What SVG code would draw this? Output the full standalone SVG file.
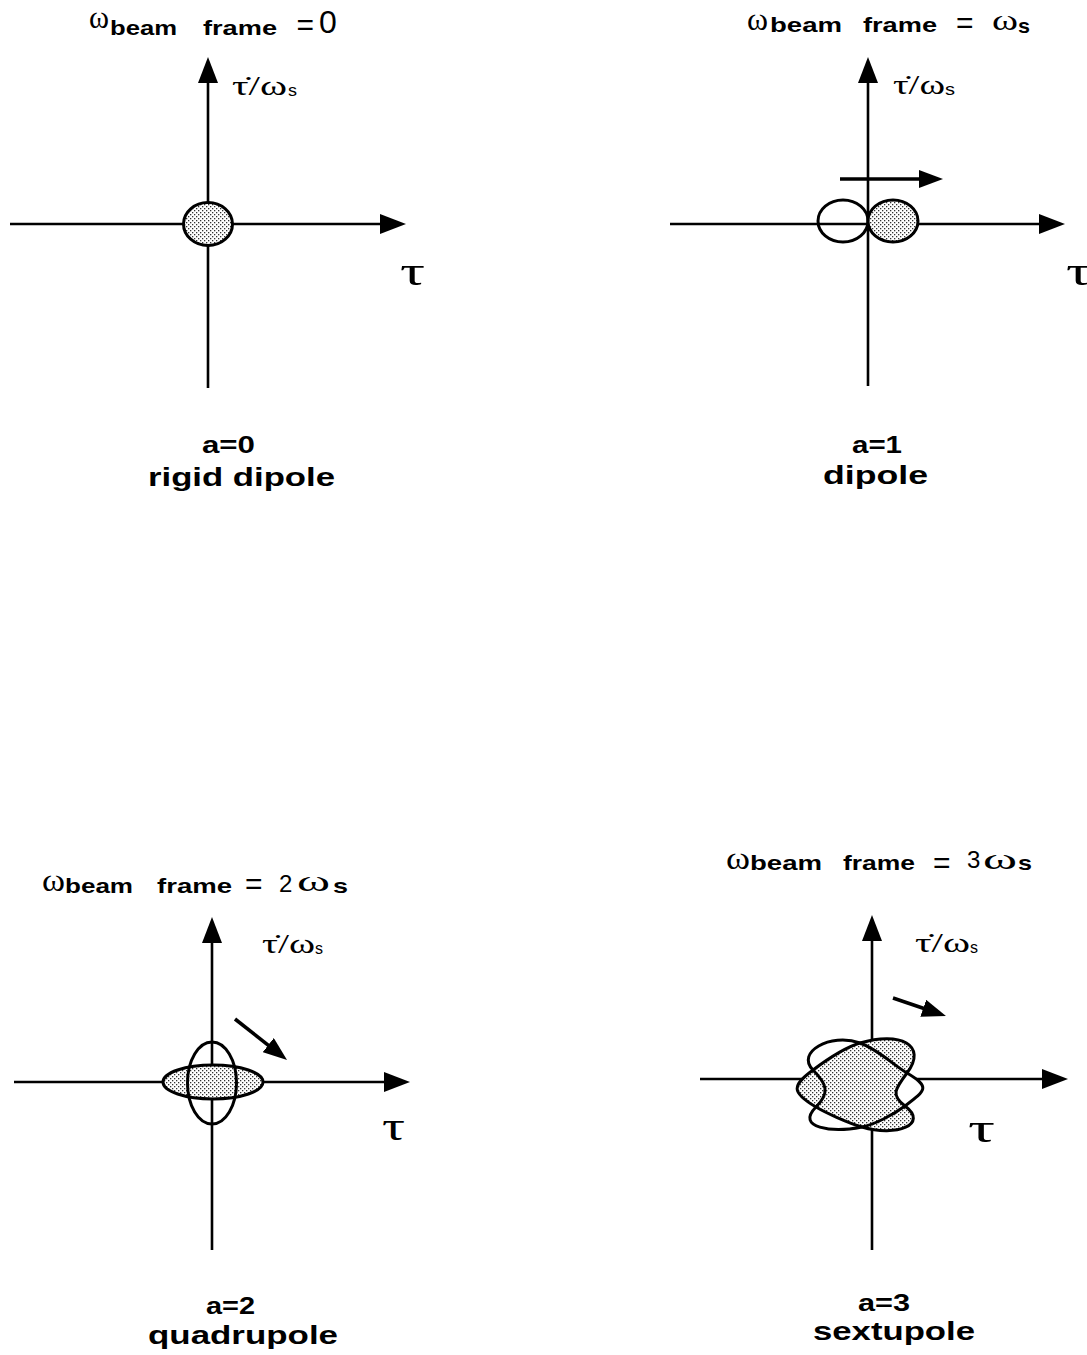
<svg xmlns="http://www.w3.org/2000/svg" width="1087" height="1355" viewBox="0 0 1087 1355">
<style>
.ax{stroke:#000;stroke-width:2.6;fill:none}
.ar{stroke:#000;stroke-width:3.6;fill:none}
.sh{stroke:#000;stroke-width:3}
.fl{fill:url(#dots)}
.op{fill:none}
.wh{fill:#fff}
.ser{font-family:"Liberation Serif","DejaVu Serif",serif;fill:#000}
.sans{font-family:"Liberation Sans",Arial,sans-serif;fill:#000}
.b{font-weight:bold}
</style>
<defs>
<pattern id="dots" width="4" height="4" patternUnits="userSpaceOnUse">
<rect width="4" height="4" fill="#fff"/>
<rect x="0" y="0" width="1.3" height="1.3" fill="#333"/>
<rect x="2" y="2" width="1.3" height="1.3" fill="#333"/>
</pattern>
<marker id="ah" markerUnits="userSpaceOnUse" markerWidth="26" markerHeight="20" refX="16" refY="10" orient="auto">
<path d="M0,0 L26,10 L0,20 Z" fill="#000"/>
</marker>
<marker id="ah2" markerUnits="userSpaceOnUse" markerWidth="24" markerHeight="18" refX="14" refY="9" orient="auto">
<path d="M0,0 L24,9 L0,18 Z" fill="#000"/>
</marker>
</defs>
<rect width="1087" height="1355" fill="#fff"/>

<g id="connectors">
<line class="ax" x1="208" y1="388" x2="208" y2="67" marker-end="url(#ah)"/>
<line class="ax" x1="10" y1="224" x2="396" y2="224" marker-end="url(#ah)"/>
<line class="ax" x1="868" y1="386" x2="868" y2="67" marker-end="url(#ah)"/>
<line class="ax" x1="670" y1="224" x2="1055" y2="224" marker-end="url(#ah)"/>
<line class="ar" x1="840" y1="179" x2="933" y2="179" marker-end="url(#ah2)"/>
<line class="ax" x1="212" y1="1250" x2="212" y2="927" marker-end="url(#ah)"/>
<line class="ax" x1="14" y1="1082" x2="400" y2="1082" marker-end="url(#ah)"/>
<line class="ar" x1="235" y1="1019" x2="279.2" y2="1053.8" marker-end="url(#ah2)"/>
<line class="ax" x1="872" y1="1250" x2="872" y2="925" marker-end="url(#ah)"/>
<line class="ax" x1="700" y1="1079" x2="1058" y2="1079" marker-end="url(#ah)"/>
<line class="ar" x1="893" y1="998" x2="936.5" y2="1012.8" marker-end="url(#ah2)"/>
</g>

<g id="panel-rigid-dipole">
<text class="ser" x="89" y="28" font-size="32" textLength="20" lengthAdjust="spacingAndGlyphs">ω</text>
<text class="sans b" x="110" y="35" font-size="21" textLength="67" lengthAdjust="spacingAndGlyphs">beam</text>
<text class="sans b" x="203" y="35" font-size="21" textLength="74" lengthAdjust="spacingAndGlyphs">frame</text>
<text class="sans" x="296.5" y="34.5" font-size="30">=</text>
<text class="sans" x="319" y="33" font-size="32">0</text>
<text class="ser" x="232" y="95" font-size="28" textLength="55" lengthAdjust="spacingAndGlyphs">τ̇/ω</text>
<text class="sans" x="288" y="96" font-size="17" textLength="9" lengthAdjust="spacingAndGlyphs">s</text>
<text class="ser" x="400" y="285" font-size="40" textLength="25" lengthAdjust="spacingAndGlyphs">τ</text>
<ellipse class="sh fl" cx="208" cy="224" rx="24.5" ry="21.5"/>
<text class="sans b" x="202" y="453" font-size="24" textLength="53" lengthAdjust="spacingAndGlyphs">a=0</text>
<text class="sans b" x="148" y="486" font-size="26" textLength="187" lengthAdjust="spacingAndGlyphs">rigid  dipole</text>
</g>

<g id="panel-dipole">
<text class="ser" x="747" y="30" font-size="32" textLength="21" lengthAdjust="spacingAndGlyphs">ω</text>
<text class="sans b" x="770" y="32" font-size="21" textLength="72" lengthAdjust="spacingAndGlyphs">beam</text>
<text class="sans b" x="863" y="32" font-size="21" textLength="74" lengthAdjust="spacingAndGlyphs">frame</text>
<text class="sans" x="956" y="32.5" font-size="30">=</text>
<text class="ser" x="992" y="30" font-size="30" textLength="26" lengthAdjust="spacingAndGlyphs">ω</text>
<text class="sans b" x="1018" y="33" font-size="21" textLength="12" lengthAdjust="spacingAndGlyphs">s</text>
<text class="ser" x="893" y="94" font-size="28" textLength="52" lengthAdjust="spacingAndGlyphs">τ̇/ω</text>
<text class="sans" x="945" y="95" font-size="17" textLength="10" lengthAdjust="spacingAndGlyphs">s</text>
<text class="ser" x="1066" y="285" font-size="40" textLength="25" lengthAdjust="spacingAndGlyphs">τ</text>
<ellipse class="sh op" cx="843" cy="221" rx="25" ry="21"/>
<ellipse class="sh fl" cx="893" cy="221" rx="25" ry="21"/>
<text class="sans b" x="852" y="453" font-size="24" textLength="50" lengthAdjust="spacingAndGlyphs">a=1</text>
<text class="sans b" x="823" y="484" font-size="26" textLength="105" lengthAdjust="spacingAndGlyphs">dipole</text>
</g>

<g id="panel-quadrupole">
<text class="ser" x="42" y="891" font-size="32" textLength="23" lengthAdjust="spacingAndGlyphs">ω</text>
<text class="sans b" x="65" y="893" font-size="21" textLength="68" lengthAdjust="spacingAndGlyphs">beam</text>
<text class="sans b" x="157" y="893" font-size="21" textLength="75" lengthAdjust="spacingAndGlyphs">frame</text>
<text class="sans" x="245" y="894" font-size="30">=</text>
<text class="sans" x="279" y="892" font-size="24">2</text>
<text class="ser" x="297" y="891" font-size="30" textLength="33" lengthAdjust="spacingAndGlyphs">ω</text>
<text class="sans b" x="333" y="893" font-size="21" textLength="15" lengthAdjust="spacingAndGlyphs">s</text>
<text class="ser" x="262" y="953" font-size="28" textLength="53" lengthAdjust="spacingAndGlyphs">τ̇/ω</text>
<text class="sans" x="315" y="954" font-size="17" textLength="8" lengthAdjust="spacingAndGlyphs">s</text>
<text class="ser" x="382" y="1140" font-size="40" textLength="23" lengthAdjust="spacingAndGlyphs">τ</text>
<ellipse class="sh fl" cx="213" cy="1082" rx="50" ry="17"/>
<ellipse class="sh op" cx="212" cy="1083" rx="24.5" ry="41"/>
<text class="sans b" x="206" y="1314" font-size="24" textLength="49" lengthAdjust="spacingAndGlyphs">a=2</text>
<text class="sans b" x="148" y="1344" font-size="26" textLength="190" lengthAdjust="spacingAndGlyphs">quadrupole</text>
</g>

<g id="panel-sextupole">
<text class="ser" x="726" y="869" font-size="32" textLength="24" lengthAdjust="spacingAndGlyphs">ω</text>
<text class="sans b" x="750" y="870" font-size="21" textLength="72" lengthAdjust="spacingAndGlyphs">beam</text>
<text class="sans b" x="843" y="870" font-size="21" textLength="72" lengthAdjust="spacingAndGlyphs">frame</text>
<text class="sans" x="933" y="873" font-size="30">=</text>
<text class="sans" x="967" y="868" font-size="24">3</text>
<text class="ser" x="983" y="869" font-size="30" textLength="34" lengthAdjust="spacingAndGlyphs">ω</text>
<text class="sans b" x="1018" y="870" font-size="21" textLength="14" lengthAdjust="spacingAndGlyphs">s</text>
<text class="ser" x="915" y="952" font-size="28" textLength="55" lengthAdjust="spacingAndGlyphs">τ̇/ω</text>
<text class="sans" x="970" y="953" font-size="17" textLength="8" lengthAdjust="spacingAndGlyphs">s</text>
<text class="ser" x="968" y="1142" font-size="40" textLength="27" lengthAdjust="spacingAndGlyphs">τ</text>
<path class="wh" d="M860,1043 C878,1049.3 894,1065.5 907,1073 C930.8,1087 925.8,1090.4 905,1106 C893,1115 874,1124.6 862,1127 C832,1133 795,1128 816,1107 C830,1093 827,1084 813,1070 C795.5,1052.5 830,1032.5 860,1043 Z"/>
<path class="sh fl" d="M860,1043 C900,1031 928,1045 907,1073 C895,1089 890.6,1095.2 905,1106 C929,1124 897,1137.5 862,1127 C847,1122.5 826.2,1113 816,1107 C790.5,1092 792.2,1085.6 813,1070 C825,1061 845,1047.5 860,1043 Z"/>
<path class="sh op" d="M860,1043 C878,1049.3 894,1065.5 907,1073 C930.8,1087 925.8,1090.4 905,1106 C893,1115 874,1124.6 862,1127 C832,1133 795,1128 816,1107 C830,1093 827,1084 813,1070 C795.5,1052.5 830,1032.5 860,1043 Z"/>
<text class="sans b" x="858" y="1311" font-size="24" textLength="52" lengthAdjust="spacingAndGlyphs">a=3</text>
<text class="sans b" x="813" y="1340" font-size="26" textLength="162" lengthAdjust="spacingAndGlyphs">sextupole</text>
</g>
</svg>
